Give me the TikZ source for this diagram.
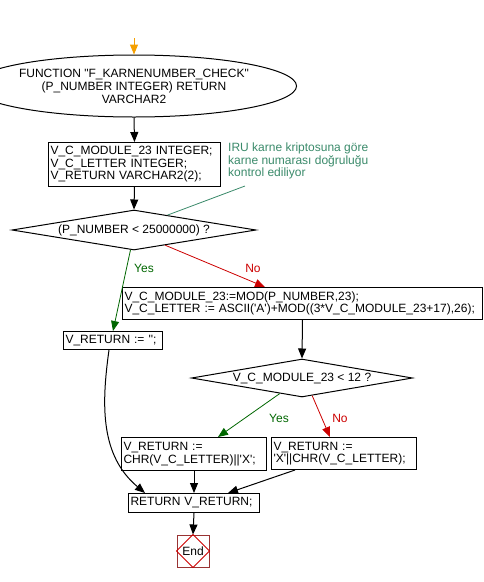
\documentclass[tikz,border=0pt]{standalone}
\usepackage{fontspec}
\setmainfont{Liberation Sans}[Ligatures=TeXOff]
\usepackage{tikz}
\usetikzlibrary{shapes.geometric}
\usetikzlibrary{arrows.meta}
\usetikzlibrary{positioning}
\definecolor{yesgreen}{HTML}{006600}
\definecolor{nored}{HTML}{CC0000}
\definecolor{notegreen}{HTML}{3A8A6A}
\definecolor{endbrown}{HTML}{993333}
\definecolor{startorange}{HTML}{F5A000}
\tikzset{
	procbox/.style={draw,line width=1pt,rectangle,anchor=north west,inner xsep=2pt,inner ysep=0pt,align=left,font=\fontsize{12}{12.5}\selectfont},
	decision/.style={draw,line width=1pt,diamond,inner sep=0pt,font=\fontsize{12}{12.5}\selectfont},
	flow/.style={line width=1pt,-{Triangle[length=10pt,width=8pt]}},
	yesline/.style={flow,yesgreen,line width=0.8pt},
	noline/.style={flow,nored,line width=0.8pt},
	lbl/.style={font=\fontsize{12}{12.5}\selectfont}
}
\begin{document}
\begin{tikzpicture}[x=1pt,y=-1pt]
			\useasboundingbox (0,0) rectangle (484,582);
			%function header
			\coordinate (start) at (134,38);
			\node[draw,line width=1pt,ellipse,minimum width=258pt,minimum height=62pt,inner sep=0pt,align=center,font=\fontsize{12}{13}\selectfont] (func) at (134,86) {FUNCTION "F\_KARNENUMBER\_CHECK"\\(P\_NUMBER INTEGER) RETURN\\VARCHAR2};
			\draw[flow,startorange] (start)--(func.north);
			%declarations and comment
			\node[procbox,text width=168pt,minimum height=44pt] (decl) at (48,142) {V\_C\_MODULE\_23 INTEGER;\\V\_C\_LETTER INTEGER;\\V\_RETURN VARCHAR2(2);};
			\node[lbl,notegreen,anchor=north west,align=left,inner sep=0pt] (comment) at (228,143) {IRU karne kriptosuna göre\\karne numarası doğruluğu\\kontrol ediliyor};
			\coordinate (note) at (245,186);
			\draw[flow] (func.south)--(decl.north);
			%first test
			\node[decision,aspect=6,minimum width=244pt,minimum height=40pt] (test1) at (134,230) {(P\_NUMBER < 25000000) ?};
			\draw[flow] (decl.south)--(test1.north);
			\draw[notegreen,line width=0.8pt] (note)--(test1.24);
			\node[procbox,text width=356pt,minimum height=32pt] (calc) at (122,287) {V\_C\_MODULE\_23:=MOD(P\_NUMBER,23);\\V\_C\_LETTER := ASCII('A')+MOD((3*V\_C\_MODULE\_23+17),26);};
			\node[procbox,text width=95pt,minimum height=18pt] (empty) at (63,331) {V\_RETURN := '';};
			\draw[yesline] (test1.-100)--(empty.north);
			\draw[noline] (test1.-26)--([xshift=143pt]calc.north west);
			\node[lbl,yesgreen] (yes1) at (144,268) {Yes};
			\node[lbl,nored] (no1) at (253,268) {No};
			%second test
			\node[decision,aspect=5.8,minimum width=221pt,minimum height=38pt] (test2) at (302,378) {V\_C\_MODULE\_23 < 12 ?};
			\draw[flow] (calc.south)--(test2.north);
			\node[procbox,text width=141pt,minimum height=33pt] (chrx) at (121,437) {V\_RETURN :=\\CHR(V\_C\_LETTER)||'X';};
			\node[procbox,text width=141pt,minimum height=32pt] (xchr) at (271,437) {V\_RETURN :=\\'X'||CHR(V\_C\_LETTER);};
			\draw[yesline] (test2.-145)--([xshift=97pt]chrx.north west);
			\draw[noline] (test2.-60)--([xshift=59pt]xchr.north west);
			\node[lbl,yesgreen] (yes2) at (279,418) {Yes};
			\node[lbl,nored] (no2) at (340,418) {No};
			%return and end
			\node[procbox,text width=127pt,minimum height=19pt] (ret) at (128,493) {RETURN V\_RETURN;};
			\draw[flow] (chrx.south)--(ret.north);
			\draw[flow] ([xshift=24pt]xchr.south west)--([xshift=100pt]ret.north west);
			\draw[flow] ([xshift=-4pt]empty.south) to[out=-98,in=140,looseness=1] ([xshift=17pt]ret.north west);
			\node[draw=endbrown,line width=1pt,minimum size=32pt,inner sep=0pt,lbl] (end) at (193,551) {End};
			\draw[red!80!black,line width=0.8pt] (end.north)--(end.east)--(end.south)--(end.west)--cycle;
			\draw[flow] (ret.south)--(end.north);
		\end{tikzpicture}
\end{document}
